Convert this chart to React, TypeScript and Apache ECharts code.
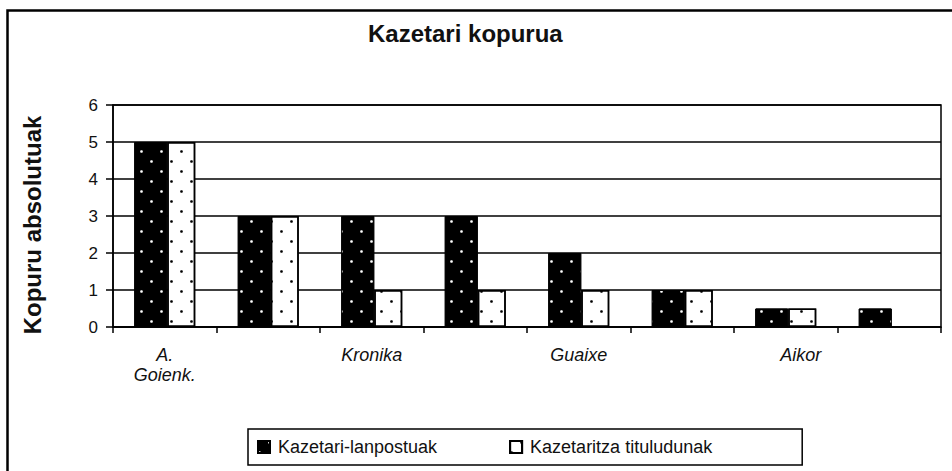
import React, { useEffect, useRef } from "react";
import * as echarts from "echarts";

const categories = ["A.\nGoienk.", "", "Kronika", "", "Guaixe", "", "Aikor", ""];
const lanpostuak = [5, 3, 3, 3, 2, 1, 0.5, 0.5];
const tituludunak: (number | null)[] = [5, 3, 1, 1, 1, 1, 0.5, null];
const seriesNames = ["Kazetari-lanpostuak", "Kazetaritza tituludunak"];
const titleText = "Kazetari kopurua";
const yAxisTitle = "Kopuru absolutuak";

const FONT = "'Liberation Sans', Arial, Helvetica, sans-serif";

export default function App() {
  const ref = useRef<HTMLDivElement>(null);
  useEffect(() => {
    document.body.style.margin = "0";
    if (!ref.current) return;
    const chart = echarts.init(ref.current, null, { renderer: "svg" });
    const dotDecal = (color: string) => ({
      symbol: "circle",
      symbolSize: 0.9,
      color,
      dashArrayX: [
        [3, 17],
        [0, 10, 3, 7],
      ],
      dashArrayY: [3, 7],
      rotation: 0,
    });
    chart.setOption({
      animation: false,
      backgroundColor: "#fff",
      textStyle: { fontFamily: FONT },
      title: {
        text: titleText,
        left: 368,
        top: 21,
        padding: 0,
        textStyle: { fontFamily: FONT, fontSize: 24, fontWeight: "bold", color: "#111" },
      },
      graphic: [
        {
          type: "rect",
          left: 5,
          top: 8,
          shape: { x: 0, y: 0, width: 1000, height: 1000 },
          style: { fill: "none", stroke: "#000", lineWidth: 2.5 },
          silent: true,
        },
        {
          type: "text",
          x: 32,
          y: 225,
          rotation: Math.PI / 2,
          style: {
            text: yAxisTitle,
            fontFamily: FONT,
            fontSize: 24,
            fontWeight: "bold",
            fill: "#111",
            textAlign: "center",
            textVerticalAlign: "middle",
          },
          silent: true,
        },
      ],
      legend: {
        left: 248,
        top: 429,
        orient: "horizontal",
        padding: [9, 90, 9, 9],
        itemGap: 72,
        itemWidth: 12,
        itemHeight: 12,
        borderColor: "#000",
        borderWidth: 1.5,
        icon: "rect",
        textStyle: { fontFamily: FONT, fontSize: 18, color: "#111", padding: [0, 0, 0, 3] },
        data: seriesNames,
      },
      grid: {
        left: 113,
        right: 11,
        top: 105,
        bottom: 144,
        show: true,
        borderColor: "#000",
        borderWidth: 1.5,
        backgroundColor: "transparent",
      },
      xAxis: {
        type: "category",
        data: categories,
        boundaryGap: true,
        axisLine: { show: true, lineStyle: { color: "#000", width: 1.5 } },
        axisTick: { show: true, inside: false, length: 6, interval: 0, lineStyle: { color: "#000", width: 1.5 } },
        axisLabel: {
          interval: (i: number) => i % 2 === 0,
          margin: 18,
          fontFamily: FONT,
          fontSize: 18,
          fontStyle: "italic",
          color: "#111",
          lineHeight: 20,
          formatter: (v: string, i: number) => (i === 6 ? "{s|" + v + "}" : v),
          rich: {
            s: { fontFamily: FONT, fontSize: 18, fontStyle: "italic", color: "#111", lineHeight: 20, padding: [0, 0, 0, 30] },
          },
        },
        splitLine: { show: false },
      },
      yAxis: {
        type: "value",
        min: 0,
        max: 6,
        interval: 1,
        axisLine: { show: true, lineStyle: { color: "#000", width: 1.5 } },
        axisTick: { show: true, inside: false, length: 7, lineStyle: { color: "#000", width: 1.5 } },
        axisLabel: { margin: 15, fontFamily: FONT, fontSize: 17, color: "#111" },
        splitLine: { show: true, lineStyle: { color: "#000", width: 1.5 } },
      },
      series: [
        {
          name: seriesNames[0],
          type: "bar",
          data: lanpostuak,
          barWidth: 33,
          barGap: "0%",
          itemStyle: { color: "#000", borderColor: "#000", borderWidth: 1, decal: dotDecal("#fff") },
        },
        {
          name: seriesNames[1],
          type: "bar",
          data: tituludunak,
          barWidth: 28,
          barGap: "0%",
          itemStyle: { color: "#fff", borderColor: "#000", borderWidth: 1.5, decal: dotDecal("#000") },
        },
      ],
    });
    return () => chart.dispose();
  }, []);
  return <div ref={ref} style={{ width: 952, height: 471 }} />;
}
